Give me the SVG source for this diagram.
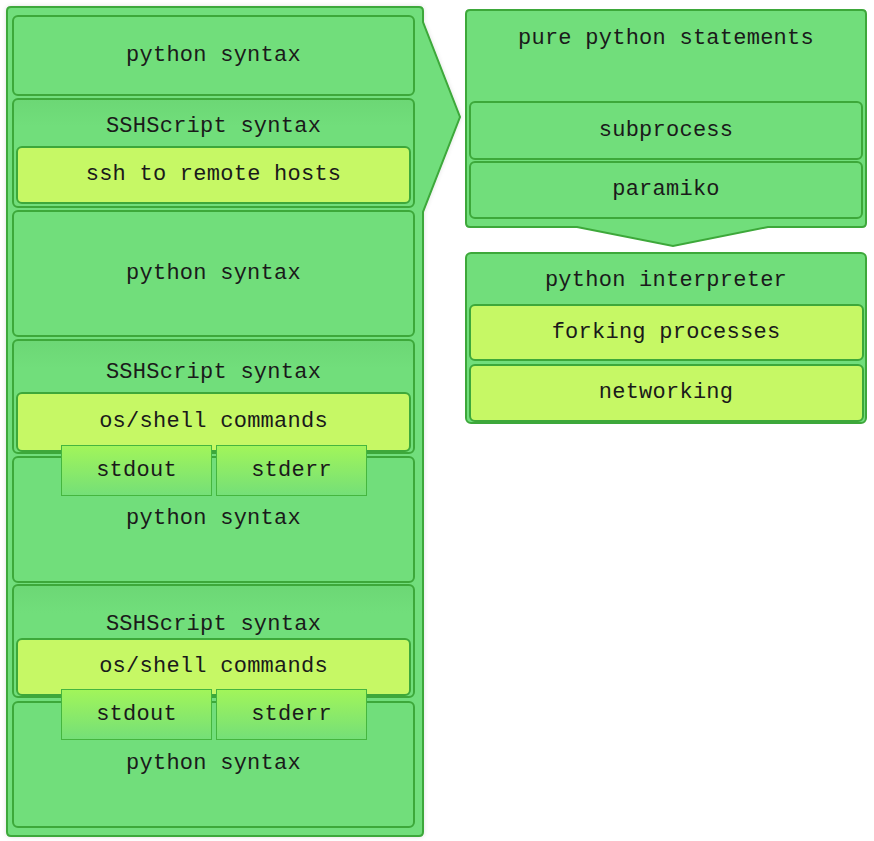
<svg xmlns="http://www.w3.org/2000/svg" width="874" height="841" viewBox="0 0 874 841">
<defs>
<linearGradient id="gs" x1="0" y1="0" x2="0" y2="1">
<stop offset="0" stop-color="#a2f55a"/>
<stop offset="1" stop-color="#74df78"/>
</linearGradient>
<linearGradient id="gssh" x1="0" y1="0" x2="0" y2="1">
<stop offset="0" stop-color="#6cd775"/>
<stop offset="0.25" stop-color="#71de7b"/>
<stop offset="1" stop-color="#71de7b"/>
</linearGradient>
<filter id="sh" x="-5%" y="-5%" width="110%" height="110%">
<feDropShadow dx="0" dy="0" stdDeviation="2" flood-color="#000" flood-opacity="0.12"/>
</filter>
</defs>
<style>
.c{fill:#71de7b;stroke:#3da83a;stroke-width:2}
.b{fill:#71de7b;stroke:#3da83a;stroke-width:2}
.s{fill:url(#gssh);stroke:#3da83a;stroke-width:2}
.y{fill:#c6f865;stroke:#3da83a;stroke-width:2}
.o{fill:url(#gs);stroke:#45b63f;stroke-width:1}
text{font-family:"Liberation Mono","Courier New",monospace;font-size:22px;fill:#1a1a1a;text-anchor:middle;letter-spacing:0.25px}
</style>
<g id="left-container">
<path class="c" filter="url(#sh)" d="M 11 7 H 419 Q 423 7 423 11 V 22 L 460 117 L 423 212 V 832 Q 423 836 419 836 H 11 Q 7 836 7 832 V 11 Q 7 7 11 7 Z"/>
</g>
<g id="py1">
<rect class="b" x="13" y="16" width="401" height="79" rx="5"/>
<text x="213.5" y="61">python syntax</text>
</g>
<g id="ssh1">
<rect class="s" x="13" y="99" width="401" height="108" rx="5"/>
<text x="213.5" y="132">SSHScript syntax</text>
<rect class="y" x="17" y="147" width="393" height="56" rx="5"/>
<text x="213.5" y="180">ssh to remote hosts</text>
</g>
<g id="py2">
<rect class="b" x="13" y="211" width="401" height="125" rx="5"/>
<text x="213.5" y="279">python syntax</text>
</g>
<g id="ssh2">
<rect class="s" x="13" y="340" width="401" height="113" rx="5"/>
<text x="213.5" y="378">SSHScript syntax</text>
<rect class="y" x="17" y="393" width="393" height="58" rx="5"/>
<text x="213.5" y="427">os/shell commands</text>
</g>
<g id="py3">
<rect class="b" x="13" y="457" width="401" height="125" rx="5"/>
<text x="213.5" y="524">python syntax</text>
</g>
<g id="out1">
<rect class="o" x="61.5" y="445.5" width="150" height="50"/>
<text x="136.5" y="476">stdout</text>
</g>
<g id="err1">
<rect class="o" x="216.5" y="445.5" width="150" height="50"/>
<text x="291.5" y="476">stderr</text>
</g>
<g id="ssh3">
<rect class="s" x="13" y="585" width="401" height="112" rx="5"/>
<text x="213.5" y="630">SSHScript syntax</text>
<rect class="y" x="17" y="639" width="393" height="56" rx="5"/>
<text x="213.5" y="672">os/shell commands</text>
</g>
<g id="py4">
<rect class="b" x="13" y="702" width="401" height="125" rx="5"/>
<text x="213.5" y="769">python syntax</text>
</g>
<g id="out2">
<rect class="o" x="61.5" y="689.5" width="150" height="50"/>
<text x="136.5" y="720">stdout</text>
</g>
<g id="err2">
<rect class="o" x="216.5" y="689.5" width="150" height="50"/>
<text x="291.5" y="720">stderr</text>
</g>
<g id="pure">
<path class="c" d="M 470 10 H 862 Q 866 10 866 14 V 223 Q 866 227 862 227 H 768 L 673 246 L 577 227 H 470 Q 466 227 466 223 V 14 Q 466 10 470 10 Z"/>
<text x="666" y="44">pure python statements</text>
<rect class="b" x="470" y="102" width="392" height="57" rx="5"/>
<text x="666" y="136">subprocess</text>
<rect class="b" x="470" y="162" width="392" height="56" rx="5"/>
<text x="666" y="195">paramiko</text>
</g>
<g id="interp">
<rect class="c" x="466" y="253" width="400" height="170" rx="5"/>
<text x="666" y="286">python interpreter</text>
<rect class="y" x="470" y="305" width="393" height="55" rx="5"/>
<text x="666" y="338">forking processes</text>
<rect class="y" x="470" y="365" width="393" height="56" rx="5"/>
<text x="666" y="398">networking</text>
</g>
<g id="connectors"/>
</svg>
